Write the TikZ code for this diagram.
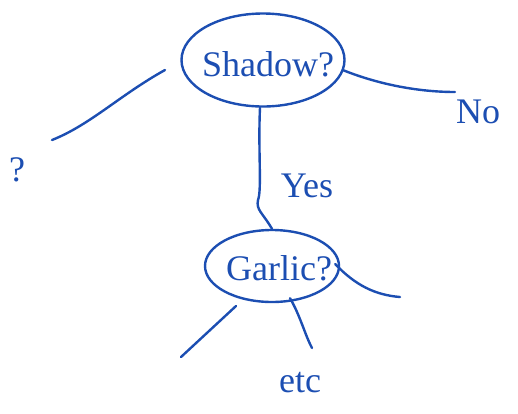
\documentclass[tikz,border=0pt]{standalone}
\usepackage{fontspec}
\setmainfont{Liberation Serif}
\usetikzlibrary{shapes.geometric}
\definecolor{ink}{RGB}{28,78,178}
\begin{document}
\begin{tikzpicture}[x=1pt,y=-1pt,
  ink/.style={draw=ink, line width=2.4pt, line cap=round},
  bubble/.style={ellipse, ink, inner sep=0pt},
  hand/.style={text=ink, font=\fontsize{36}{38}\selectfont, inner sep=0pt}]
\useasboundingbox (0,0) rectangle (518,413);
% nodes
\node[bubble, minimum width=163pt, minimum height=93pt] (shadow) at (263,60) {};
\node[hand] (shadowt) at (268,64) {Shadow?};
\node[bubble, minimum width=134pt, minimum height=72pt] (garlic) at (272,266) {};
\node[hand] (garlict) at (279,268) {Garlic?};
\node[hand] (q) at (17,170) {?};
\node[hand] (no) at (478,112) {No};
\node[hand] (yes) at (307,186) {Yes};
\node[hand] (etc) at (300,383) {etc};
% free ends
\coordinate (l1) at (165,70);
\coordinate (l2) at (52,140);
\coordinate (r2) at (455,92);
\coordinate (g3) at (400,297);
\coordinate (g4a) at (236,306);
\coordinate (g4b) at (181,357);
\coordinate (g5) at (312,348);
% connectors
\draw[ink] (l1) .. controls (120,95) and (90,125) .. (l2);
\draw[ink] (shadow.east) ++(-3,10) coordinate (r1) .. controls (380,85) and (420,92) .. (r2);
\draw[ink] (shadow.south) ++(-3,0) coordinate (s1) .. controls (258,150) and (262,190) .. (258,200) .. controls (256,210) and (262,212) .. (garlic.north);
\draw[ink] (garlic.east) ++(-5,-2) coordinate (g2) .. controls (355,285) and (375,295) .. (g3);
\draw[ink] (g4a) -- (g4b);
\draw[ink] (garlic.south) ++(18,-5) coordinate (g1) .. controls (300,315) and (305,335) .. (g5);
\end{tikzpicture}
\end{document}
